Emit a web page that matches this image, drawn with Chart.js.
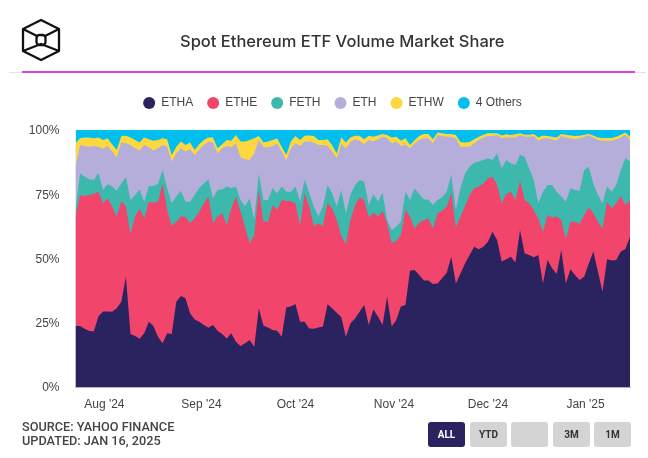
<!DOCTYPE html>
<html>
<head>
<meta charset="utf-8">
<script src="https://cdn.jsdelivr.net/npm/chart.js@4"></script>
<style>
  html, body { margin: 0; padding: 0; background: #fff; }
  #page { position: relative; width: 648px; height: 458px; overflow: hidden; font-family: Roboto, sans-serif; }
  #myChart { position: absolute; left: 0; top: 0; }
  #logo { position: absolute; left: 20px; top: 17px; }
  #title { position: absolute; left: 180px; top: 31px; font: 500 16.5px Inter, sans-serif; color: #333; white-space: nowrap; }
  #ruleLight { position: absolute; left: 9px; top: 72px; width: 637px; height: 1px; background: #e9dcf5; }
  #rule { position: absolute; left: 22px; top: 71px; width: 613px; height: 1.5px; background: #dd3fe8; }
  #source { position: absolute; left: 22px; top: 420px; font: 500 12.7px/14px Roboto, sans-serif; color: #444; }
  .btn { position: absolute; top: 422px; width: 37px; height: 25px; border-radius: 3px; background: #d4d4d4; color: #333; font: 700 10px/25px Roboto, sans-serif; text-align: center; }
  .btn.active { background: #2b2360; color: #fff; }
</style>
</head>
<body>
<div id="page">
  <canvas id="myChart" width="648" height="458"></canvas>
  <svg id="logo" width="42" height="46" viewBox="0 0 42 46" fill="none" stroke="#111" stroke-width="2.3" stroke-linejoin="round">
    <path d="M21 3 L39 12 L39 34 L21 43 L3 34 L3 12 Z"/>
    <path d="M3 12 L17 19 M39 12 L25 19"/>
    <path d="M3 34 L21 27 L39 34"/>
    <rect x="16.5" y="18" width="9" height="10" rx="3"/>
  </svg>
  <div id="title">Spot Ethereum ETF Volume Market Share</div>
  <div id="ruleLight"></div>
  <div id="rule"></div>
  <div id="source">SOURCE: YAHOO FINANCE<br>UPDATED: JAN 16, 2025</div>
  <div class="btn active" style="left:428px">ALL</div>
  <div class="btn" style="left:470px">YTD</div>
  <div class="btn" style="left:511px"></div>
  <div class="btn" style="left:553px">3M</div>
  <div class="btn" style="left:594px">1M</div>
</div>
<script>
const dates = [
  '07-23','07-24','07-25','07-26','07-29','07-30','07-31',
  '08-01','08-02','08-05','08-06','08-07','08-08','08-09','08-12','08-13','08-14','08-15','08-16','08-19','08-20','08-21','08-22','08-23','08-26','08-27','08-28','08-29','08-30',
  '09-03','09-04','09-05','09-06','09-09','09-10','09-11','09-12','09-13','09-16','09-17','09-18','09-19','09-20','09-23','09-24','09-25','09-26','09-27','09-30',
  '10-01','10-02','10-03','10-04','10-07','10-08','10-09','10-10','10-11','10-14','10-15','10-16','10-17','10-18','10-21','10-22','10-23','10-24','10-25','10-28','10-29','10-30','10-31',
  '11-01','11-04','11-05','11-06','11-07','11-08','11-11','11-12','11-13','11-14','11-15','11-18','11-19','11-20','11-21','11-22','11-25','11-26','11-27','11-29',
  '12-02','12-03','12-04','12-05','12-06','12-09','12-10','12-11','12-12','12-13','12-16','12-17','12-18','12-19','12-20','12-23','12-24','12-26','12-27','12-30','12-31',
  '01-02','01-03','01-06','01-07','01-08','01-10','01-13','01-14','01-15'
];

const tickIndex = [6.3, 27.5, 48, 69.5, 90, 111.3];
const tickLabels = ["Aug '24", "Sep '24", "Oct '24", "Nov '24", "Dec '24", "Jan '25"];
const yTicks = [0, 25, 50, 75, 100];

// top edge of each band, in percent
const ethaTop = [
  23.7,23.7,22.7,21.8,21.7,27.4,29.4,29.4,29.3,30.6,33.2,42.9,20.6,19.8,18.8,20.9,25.4,23.7,19.6,17.0,
  20.9,20.6,33.2,35.4,34.5,28.7,26.3,25.4,24.1,23.1,24.1,21.9,20.6,18.9,20.9,17.6,16.0,17.0,18.3,15.7,
  30.6,23.9,23.2,22.2,21.9,19.6,31.0,31.3,32.3,25.4,25.4,22.8,22.7,23.2,23.5,32.2,30.6,28.9,27.1,19.6,
  24.8,26.7,29.3,31.9,24.1,30.2,27.4,24.1,35.1,23.5,26.1,31.3,31.9,45.3,45.5,43.6,41.4,41.4,40.1,40.3,
  42.3,44.5,50.7,40.3,44.2,48.1,51.4,54.6,53.6,54.6,56.5,60.4,57.2,48.8,49.7,50.7,48.4,61.1,52.0,51.4,
  50.5,51.4,40.3,49.4,46.2,44.0,53.3,40.3,45.8,43.6,41.6,42.9,48.1,52.7,44.9,37.1,49.7,49.2,49.4,52.7,
  53.7,58.5
];
const etheTop = [
  66.3,74.7,74.3,74.7,75.1,76.0,71.5,73.4,70.2,66.3,72.4,70.2,59.5,66.3,69.5,65.6,72.1,71.7,72.1,79.2,
  68.9,62.6,64.3,66.3,66.3,63.7,65.6,68.2,71.5,74.1,63.7,66.3,67.6,63.0,69.5,74.1,68.2,62.4,55.9,59.1,
  76.7,64.3,64.3,70.8,68.9,72.8,72.4,72.4,71.5,62.6,75.4,70.2,62.6,63.7,62.6,71.7,69.5,65.0,58.8,55.6,
  65.0,70.8,73.8,72.8,66.0,67.8,66.3,68.6,63.7,55.9,56.9,59.1,69.1,66.3,61.7,63.9,65.0,65.6,61.7,67.6,
  68.6,70.2,75.6,62.1,66.3,70.4,74.7,77.3,77.9,79.2,81.2,81.8,78.6,71.5,75.1,76.0,72.8,80.3,72.8,71.5,
  68.9,65.6,60.4,66.9,66.0,66.3,65.0,57.5,64.3,64.3,63.4,66.9,69.9,67.6,64.3,61.7,72.1,69.5,71.5,74.3,
  70.8,72.8
];
const fethTop = [
  68.9,83.1,81.8,80.8,80.5,83.4,76.7,79.0,78.0,76.4,79.2,81.6,72.8,74.7,76.9,72.1,78.2,78.2,79.0,84.4,
  77.3,71.5,74.1,76.4,72.1,72.1,74.7,77.3,79.2,80.8,73.4,76.7,76.9,78.0,77.3,78.0,72.8,70.2,73.4,65.0,
  83.1,72.8,72.8,77.3,75.4,78.0,76.0,76.0,78.0,72.1,80.5,75.4,70.2,66.3,70.2,78.6,75.4,70.2,76.7,67.6,
  74.7,78.6,80.5,79.9,70.8,75.1,72.1,75.6,65.0,61.1,62.4,64.3,76.0,72.8,77.3,75.1,73.0,73.0,70.8,72.8,
  73.8,76.0,82.5,68.9,77.3,83.1,85.7,87.3,87.7,88.3,89.0,88.3,90.9,85.1,88.3,87.0,86.4,90.3,89.6,85.1,
  80.5,71.5,76.0,78.6,78.6,76.0,74.1,72.1,77.3,76.7,76.4,84.4,85.7,79.2,74.7,71.5,78.0,76.0,78.6,84.4,
  89.0,87.7
];
const ethTop = [
  85.7,94.2,93.8,93.5,93.8,93.5,92.7,93.8,91.6,89.4,95.1,94.8,94.2,92.9,92.0,94.2,93.3,92.0,92.9,94.2,
  93.5,87.7,90.9,92.9,91.6,92.5,90.3,92.5,94.2,95.5,95.1,90.9,92.9,93.8,93.3,94.8,89.4,88.6,88.3,90.9,
  96.1,93.3,93.3,93.8,94.8,91.6,88.1,92.9,94.8,93.8,95.5,95.5,95.1,94.2,94.2,93.8,91.6,89.0,94.6,92.9,
  95.3,96.4,95.8,94.5,96.1,95.5,96.4,97.4,96.8,94.8,95.5,93.8,94.5,92.9,94.8,96.1,96.8,96.8,94.8,98.1,
  97.7,97.4,97.4,96.8,93.5,93.5,93.5,94.8,96.1,97.1,97.7,97.7,98.1,96.8,97.1,97.1,97.1,98.1,97.4,97.4,
  97.7,95.8,96.8,96.8,96.4,95.8,97.7,97.1,96.8,96.4,96.8,97.4,97.9,97.1,96.1,95.8,95.8,95.8,96.4,97.1,
  98.2,96.1
];
const ethwTop = [
  94.8,96.8,97.1,97.1,96.8,97.1,96.1,96.8,94.5,92.2,97.7,97.8,97.1,96.1,95.1,97.1,96.4,95.8,96.1,96.8,
  96.4,90.3,93.5,95.5,94.2,95.1,92.2,94.5,96.1,97.1,97.1,92.9,94.5,96.1,95.8,98.1,95.5,95.5,96.1,96.8,
  97.7,95.1,95.5,96.1,96.8,93.5,90.3,95.5,97.7,96.1,97.8,97.9,97.7,96.1,96.1,96.4,94.2,90.9,97.1,95.1,
  97.1,97.8,97.8,96.4,97.8,97.4,97.9,98.4,98.1,97.1,97.4,95.8,96.8,94.2,96.1,97.7,98.4,98.4,96.4,99.0,
  98.7,98.4,98.4,98.1,95.3,95.1,95.3,96.4,97.4,98.2,98.7,98.7,98.7,97.9,98.3,98.1,98.3,98.7,98.2,98.2,
  98.4,97.1,97.9,97.7,97.4,97.1,98.4,98.2,97.9,97.7,97.8,98.2,98.4,97.9,97.1,96.9,96.9,96.9,97.4,98.2,
  99.0,97.4
];
const othersTop = [
  100,100,100,100,100,100,100,100,100,100,100,100,100,100,100,100,100,100,100,100,
  100,100,100,100,100,100,100,100,100,100,100,100,100,100,100,100,100,100,100,100,
  100,100,100,100,100,100,100,100,100,100,100,100,100,100,100,100,100,100,100,100,
  100,100,100,100,100,100,100,100,100,100,100,100,100,100,100,100,100,100,100,100,
  100,100,100,100,100,100,100,100,100,100,100,100,100,100,100,100,100,100,100,100,
  100,100,100,100,100,100,100,100,100,100,100,100,100,100,100,100,100,100,100,100,
  100,100
];

function band(label, data, color) {
  return {
    label: label,
    data: data,
    backgroundColor: color,
    borderColor: color,
    borderWidth: 0,
    pointRadius: 0,
    pointStyle: 'circle',
    fill: 'origin',
  };
}

// the legend has no gap option, so size its box to push the plot down,
// and move it right of the y axis labels so it centres where the original does
const legendGap = {
  id: 'legendGap',
  beforeInit(chart) {
    const fit = chart.legend.fit;
    chart.legend.fit = function () {
      fit.call(this);
      this.height = 47;
    };
  },
  afterLayout(chart) {
    chart.legend.left = 35;
  },
};

const ctx = document.getElementById('myChart').getContext('2d');
new Chart(ctx, {
  type: 'line',
  data: {
    labels: dates,
    datasets: [
      band('ETHA', ethaTop, '#2b2360'),
      band('ETHE', etheTop, '#f2456b'),
      band('FETH', fethTop, '#3cb8ac'),
      band('ETH', ethTop, '#b5aedb'),
      band('ETHW', ethwTop, '#fdd73f'),
      band('4 Others', othersTop, '#00bfef'),
    ],
  },
  plugins: [legendGap],
  options: {
    responsive: false,
    animation: false,
    layout: { padding: { left: 0, right: 18, top: 83, bottom: 41 } },
    plugins: {
      title: { display: false },
      tooltip: { enabled: false },
      legend: {
        position: 'top',
        labels: {
          usePointStyle: true,
          boxWidth: 18,
          boxHeight: 8.5,
          padding: 14,
          color: '#444',
          font: { family: 'Liberation Sans', size: 12 },
        },
      },
    },
    scales: {
      x: {
        grid: { display: false, drawTicks: false },
        border: { display: true, color: '#b5b5b5', width: 1 },
        afterBuildTicks: (axis) => {
          axis.ticks = tickIndex.map((v) => ({ value: v }));
        },
        afterFit: (axis) => {
          axis.height = 30;
        },
        ticks: {
          autoSkip: false,
          maxRotation: 0,
          padding: 10,
          color: '#444',
          font: { family: 'Liberation Sans', size: 12 },
          callback: (value, i) => tickLabels[i],
        },
      },
      y: {
        min: 0,
        max: 100,
        grid: { display: false, drawTicks: false },
        border: { display: false },
        afterBuildTicks: (axis) => {
          axis.ticks = yTicks.map((v) => ({ value: v }));
        },
        afterFit: (axis) => {
          axis.width = 75.5;
        },
        ticks: {
          padding: 16,
          labelOffset: 1,
          color: '#444',
          font: { family: 'Liberation Sans', size: 12 },
          callback: (value) => value + '%',
        },
      },
    },
  },
});
</script>
</body>
</html>
